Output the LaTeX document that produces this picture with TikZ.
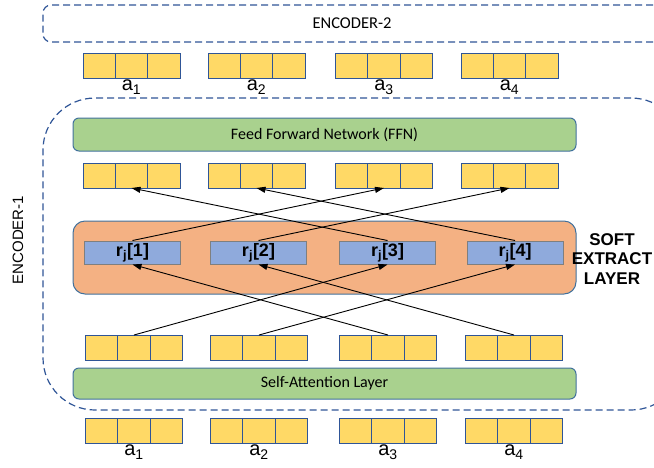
\documentclass[tikz,border=0pt]{standalone}
\usepackage{fontspec}
\setmainfont{Liberation Sans}
\newfontfamily\calibri{Carlito}
\usetikzlibrary{positioning, arrows.meta}
\usepackage{xcolor}
\definecolor{cellfill}{RGB}{255,217,102}
\definecolor{cellline}{RGB}{47,85,151}
\definecolor{ffngreen}{RGB}{169,209,142}
\definecolor{boxline}{RGB}{65,113,156}
\definecolor{softorange}{RGB}{244,177,131}
\definecolor{rblue}{RGB}{143,170,220}
\definecolor{rline}{RGB}{127,127,127}
\definecolor{encline}{RGB}{47,85,151}

\begin{document}
\begin{tikzpicture}[x=1pt, y=-1pt,
    cell/.style={draw=cellline, fill=cellfill, line width=0.9pt, minimum width=32.3pt, minimum height=25pt, inner sep=0pt, outer sep=0pt},
    layerbox/.style={draw=boxline, fill=ffngreen, rounded corners=6pt, line width=1pt, minimum width=503pt, inner sep=0pt, font=\calibri\fontsize{16}{19}\selectfont},
    extractbox/.style={draw=boxline, fill=softorange, rounded corners=12pt, line width=1pt, minimum width=503pt, minimum height=73pt},
    rnode/.style={draw=rline, fill=rblue, line width=1pt, minimum width=96pt, minimum height=23pt, inner sep=0pt, font=\bfseries\fontsize{18}{20}\selectfont},
    encbox/.style={draw=encline, dash pattern=on 7pt off 4pt, line width=1.2pt, inner sep=0pt},
    lbl/.style={font=\fontsize{20}{22}\selectfont, inner sep=0pt},
    arr/.style={-{Triangle[length=9pt,width=6pt]}, line width=0.9pt},]

    \useasboundingbox (0,0) rectangle (654,467);
    \clip (0,0) rectangle (654,467);

    % encoders
    \node[encbox, rounded corners=8pt, minimum width=640pt, minimum height=37pt] (enc2) at (363,23.5) {};
    \node[font=\calibri\fontsize{16.5}{19}\selectfont] (enc2lbl) at (352,23.5) {ENCODER-2};

    \node[encbox, rounded corners=52pt, minimum width=640pt, minimum height=312pt] (enc1) at (363,254) {};
    \node[rotate=90, font=\fontsize{15}{18}\selectfont] (enc1lbl) at (18,240) {ENCODER-1};

    % layers
    \node[layerbox, minimum height=33pt] (ffn) at (324.5,134.5) {Feed Forward Network (FFN)};
    \node[layerbox, minimum height=31pt] (selfatt) at (324.5,383.5) {Self-Attention Layer};
    \node[extractbox] (soft) at (324.5,257.5) {};
    \node[align=center, font=\bfseries\fontsize{17}{19.5}\selectfont] (softlbl) at (612,259) {SOFT\\EXTRACT\\LAYER};

    \node[rnode] (r1) at (132.5,252.5) {r\textsubscript{j}[1]};
    \node[rnode] (r2) at (258.5,252.5) {r\textsubscript{j}[2]};
    \node[rnode] (r3) at (387.5,252.5) {r\textsubscript{j}[3]};
    \node[rnode] (r4) at (515,252.5) {r\textsubscript{j}[4]};

    % vectors
    \foreach \i/\x in {1/131.5, 2/256.5, 3/384, 4/509.5}{
      \node[cell] (top\i) at (\x,65.5) {};
      \node[cell, left=0pt of top\i] (top\i-l) {};
      \node[cell, right=0pt of top\i] (top\i-r) {};
      \node[lbl, below=2pt of top\i] (toplbl\i) {a\textsubscript{\i}};

      \node[cell] (up\i) at (\x,175.5) {};
      \node[cell, left=0pt of up\i] (up\i-l) {};
      \node[cell, right=0pt of up\i] (up\i-r) {};
    }
    \foreach \i/\x in {1/134, 2/259, 3/388, 4/514}{
      \node[cell] (lo\i) at (\x,347.5) {};
      \node[cell, left=0pt of lo\i] (lo\i-l) {};
      \node[cell, right=0pt of lo\i] (lo\i-r) {};

      \node[cell] (in\i) at (\x,430.5) {};
      \node[cell, left=0pt of in\i] (in\i-l) {};
      \node[cell, right=0pt of in\i] (in\i-r) {};
      \node[lbl, below=2pt of in\i] (inlbl\i) {a\textsubscript{\i}};
    }

    % crossings
    \draw[arr] (r1.north) -- (up3.south);
    \draw[arr] (r2.north) -- (up4.south);
    \draw[arr] (r3.north) -- (up1.south);
    \draw[arr] (r4.north) -- (up2.south);

    \draw[arr] (lo1.north) -- (r3.south);
    \draw[arr] (lo2.north) -- (r4.south);
    \draw[arr] (lo3.north) -- (r1.south);
    \draw[arr] (lo4.north) -- (r2.south);

\end{tikzpicture}
\end{document}
